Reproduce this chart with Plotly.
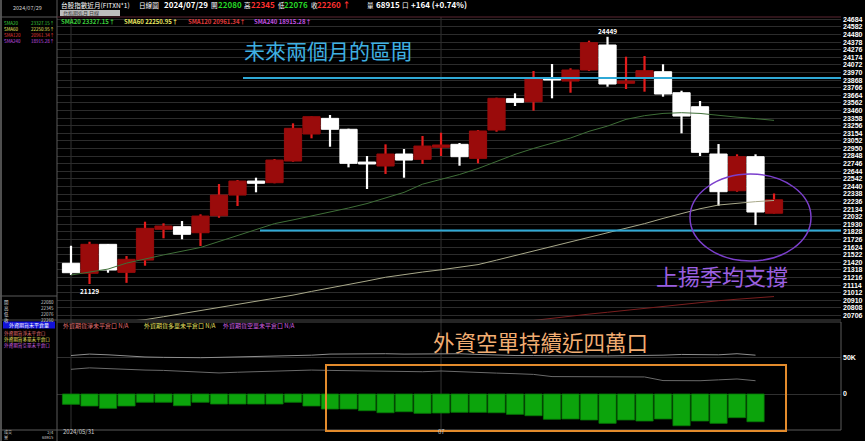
import plotly.graph_objects as go

W, H = 865, 441

# ---------------- data ----------------
DATES = ["2024/05/31", "2024/06/03", "2024/06/04", "2024/06/05", "2024/06/06", "2024/06/07",
         "2024/06/11", "2024/06/12", "2024/06/13", "2024/06/14", "2024/06/17", "2024/06/18",
         "2024/06/19", "2024/06/20", "2024/06/21", "2024/06/24", "2024/06/25", "2024/06/26",
         "2024/06/27", "2024/06/28", "2024/07/01", "2024/07/02", "2024/07/03", "2024/07/04",
         "2024/07/05", "2024/07/08", "2024/07/09", "2024/07/10", "2024/07/11", "2024/07/12",
         "2024/07/15", "2024/07/16", "2024/07/17", "2024/07/18", "2024/07/19", "2024/07/22",
         "2024/07/23", "2024/07/26", "2024/07/29"]

OPEN = [21407, 21273, 21662, 21286, 21451, 21864, 21899, 21818, 22046, 22324, 22512, 22490, 22781,
        23144, 23354, 23207, 22767, 22714, 22875, 22804, 22965, 23005, 22817, 23197, 23618, 23577,
        23900, 23855, 24003, 24339, 23825, 23892, 23980, 23698, 23510, 22875, 22382, 22839, 22080]
HIGH = [21643, 21697, 21667, 21505, 21966, 21944, 21975, 22065, 22472, 22526, 22557, 22808, 23287,
        23380, 23399, 23215, 22848, 23005, 22942, 23117, 23161, 23023, 23197, 23631, 23690, 23990,
        24084, 24026, 24397, 24449, 24182, 24191, 24080, 23725, 23587, 23009, 22871, 22871, 22345]
LOW = [21250, 21129, 21281, 21145, 21375, 21743, 21730, 21640, 22019, 22177, 22361, 22482, 22772,
       23086, 22973, 22696, 22405, 22607, 22557, 22741, 22848, 22718, 22750, 23175, 23520, 23457,
       23623, 23698, 23990, 23779, 23748, 23712, 23645, 23153, 22848, 22181, 22369, 21921, 22076]
CLOSE = [21281, 21662, 21317, 21461, 21877, 21908, 21797, 22042, 22324, 22512, 22482, 22794, 23220,
         23376, 23207, 22750, 22741, 22875, 22794, 22982, 22996, 22839, 23184, 23623, 23569, 23892,
         23869, 24003, 24370, 23815, 23855, 23994, 23681, 23385, 22898, 22369, 22839, 22096, 22260]
VOLUME_LAST = 68915

SMA20 = [21250, 21290, 21330, 21410, 21470, 21520, 21570, 21620, 21700, 21780, 21850, 21940, 21990,
         22040, 22100, 22150, 22210, 22280, 22360, 22470, 22530, 22600, 22680, 22780, 22870, 22950,
         23020, 23090, 23180, 23250, 23340, 23390, 23420, 23430, 23420, 23390, 23370, 23350, 23327]
SMA60 = [20560, 20580, 20600, 20625, 20650, 20690, 20730, 20770, 20810, 20850, 20890, 20930, 20980,
         21030, 21080, 21120, 21170, 21220, 21260, 21290, 21320, 21350, 21390, 21450, 21510, 21580,
         21640, 21700, 21760, 21815, 21880, 21940, 22010, 22080, 22140, 22190, 22215, 22235, 22251]
SMA120 = [None] * 25 + [20640, 20670, 20700, 20725, 20750, 20775, 20800, 20830, 20860, 20880,
                        20905, 20925, 20945, 20961]

# foreign futures open interest (contracts), 38 days available
NET_OI = [-14200, -16500, -19700, -16500, -11400, -11400, -16100, -11400, -13800, -13800, -13800,
          -13800, -11400, -16500, -20700, -20700, -23000, -25800, -24400, -26600, -26200, -25200,
          -25200, -25800, -28000, -29900, -34800, -34400, -35800, -40400, -35800, -37200, -34400,
          -43700, -37200, -40400, -32600, -38200]
LINE_A = [53000, 55000, 54000, 52000, 51000, 50500, 50000, 50000, 50500, 51000, 51500, 52000,
          52500, 53500, 55000, 55500, 56000, 55500, 55000, 55500, 56000, 55500, 54500, 53500,
          53000, 53000, 52500, 52500, 52500, 52500, 52500, 53000, 53500, 54500, 54000, 54000,
          55500, 53500]
LINE_B = [34000, 36000, 35000, 33500, 33000, 32500, 31500, 30500, 29000, 30000, 31000, 32000,
          32500, 33000, 32500, 32000, 31500, 31000, 30500, 30700, 31700, 30500, 29500, 28800,
          28000, 27000, 24000, 23800, 23800, 23800, 23800, 23500, 18500, 18300, 18300, 19500,
          20700, 18300]

PRICE_TICKS = [20706, 20808, 20910, 21012, 21114, 21216, 21318, 21420, 21522, 21624, 21726, 21828,
               21930, 22032, 22134, 22236, 22338, 22440, 22542, 22644, 22746, 22848, 22950, 23052,
               23154, 23256, 23358, 23460, 23562, 23664, 23766, 23868, 23970, 24072, 24174, 24276,
               24378, 24480, 24582, 24684]
OI_TICKS = [0, 50000]
OI_TICK_TEXT = ["0", "50K"]

UPPER_LEVEL = 23895
LOWER_LEVEL = 21848
SMA_LABELS = [("SMA20", "23327.15"), ("SMA60", "22250.95"), ("SMA120", "20961.34"), ("SMA240", "18915.28")]

# ---------------- helpers ----------------
def px(x):
    return x / W

def py(y):
    return 1 - y / H

X0, X1 = 57, 841
MAIN_TOP, MAIN_BOT = 17, 320
SUB_TOP, SUB_BOT = 322, 430

n = len(DATES)
up_idx = [i for i in range(n) if CLOSE[i] >= OPEN[i]]
dn_idx = [i for i in range(n) if CLOSE[i] < OPEN[i]]

RED_BODY = "#9a0b0b"
RED_WICK = "#e41c1c"
WHITE = "#ffffff"

fig = go.Figure()

def wick(idx, color):
    fig.add_trace(go.Bar(
        x=[DATES[i] for i in idx], base=[LOW[i] for i in idx],
        y=[HIGH[i] - LOW[i] for i in idx], width=0.12,
        marker=dict(color=color, line=dict(width=0)), xaxis="x", yaxis="y", hoverinfo="skip"))

def body(idx, color):
    fig.add_trace(go.Bar(
        x=[DATES[i] for i in idx], base=[min(OPEN[i], CLOSE[i]) for i in idx],
        y=[abs(CLOSE[i] - OPEN[i]) for i in idx], width=0.93,
        marker=dict(color=color, line=dict(color=color, width=1)), xaxis="x", yaxis="y"))

wick(up_idx, RED_WICK)
wick(dn_idx, WHITE)
body(up_idx, RED_BODY)
body(dn_idx, WHITE)

fig.add_trace(go.Scatter(x=DATES, y=SMA120, mode="lines", line=dict(color="#7a1e1e", width=1),
                         xaxis="x", yaxis="y"))
fig.add_trace(go.Scatter(x=DATES, y=SMA60, mode="lines", line=dict(color="#a9a98a", width=1),
                         xaxis="x", yaxis="y"))
fig.add_trace(go.Scatter(x=DATES, y=SMA20, mode="lines", line=dict(color="#3f6f38", width=1),
                         xaxis="x", yaxis="y"))

# lower panel
fig.add_trace(go.Bar(x=DATES[:len(NET_OI)], y=NET_OI, width=0.93,
                     marker=dict(color="#0ca40c", line=dict(color="#077a07", width=0.8)),
                     xaxis="x2", yaxis="y2"))
fig.add_trace(go.Scatter(x=DATES[:len(LINE_A)], y=LINE_A, mode="lines",
                         line=dict(color="#8e8e8e", width=1), xaxis="x2", yaxis="y2"))
fig.add_trace(go.Scatter(x=DATES[:len(LINE_B)], y=LINE_B, mode="lines",
                         line=dict(color="#6a6a6a", width=1), xaxis="x2", yaxis="y2"))

XR = [-0.757, 41.62]
common_x = dict(type="category", categoryorder="array", categoryarray=DATES, range=XR,
                showticklabels=False, showgrid=False, zeroline=False, showline=False, fixedrange=True)

fig.update_layout(
    width=W, height=H, margin=dict(l=0, r=0, t=0, b=0),
    paper_bgcolor="#000000", plot_bgcolor="#000000",
    barmode="overlay", showlegend=False,
    font=dict(family="Noto Sans CJK TC, DejaVu Sans, sans-serif", color="#ffffff"),
    xaxis=dict(domain=[px(X0), px(X1)], anchor="y", **common_x),
    xaxis2=dict(domain=[px(X0), px(X1)], anchor="y2", **common_x),
    yaxis=dict(domain=[py(MAIN_BOT), py(MAIN_TOP)], range=[20646, 24715], side="right",
               tickvals=PRICE_TICKS, ticktext=[str(t) for t in PRICE_TICKS],
               tickfont=dict(size=7, color="#ffffff", family="Liberation Sans", weight="bold"),
               gridcolor="#2c2c2c", gridwidth=1, zeroline=False, showline=False, ticks="",
               ticklabelstandoff=1, fixedrange=True),
    yaxis2=dict(domain=[py(SUB_BOT), py(SUB_TOP)], range=[-49600, 99200], side="right",
                tickvals=OI_TICKS, ticktext=OI_TICK_TEXT,
                tickfont=dict(size=7, color="#ffffff", family="Liberation Sans", weight="bold"),
                gridcolor="#303030", gridwidth=1, zeroline=False, showline=False, ticks="",
                ticklabelstandoff=1, fixedrange=True),
)

shapes = []
def line(x0, y0, x1, y1, color, width=1, dash="solid"):
    shapes.append(dict(type="line", xref="paper", yref="paper", x0=px(x0), y0=py(y0),
                       x1=px(x1), y1=py(y1), line=dict(color=color, width=width, dash=dash)))

# frames / separators
line(1, 0, 1, 441, "#6a6a6a", 1.5)
line(X0, 0, X0, 441, "#5a5a5a", 1)
line(0, 17, 57, 17, "#5a5a5a", 1)
line(X0, 17, X1, 17, "#5c2632", 1)
line(0, 296, 57, 296, "#5a5a5a", 1)
line(0, 320, X1, 320, "#4a4a4a", 1)
line(X0, SUB_TOP, X1, SUB_TOP, "#4a4a4a", 1)
line(0, SUB_BOT, X1, SUB_BOT, "#5a5a5a", 1)
line(X1, SUB_TOP, X1, SUB_BOT, "#5a5a5a", 1)
# vertical month separators (data coords)
for d in (DATES[0], DATES[20]):
    shapes.append(dict(type="line", xref="x", yref="paper", x0=d, x1=d, y0=py(SUB_BOT), y1=py(MAIN_TOP),
                       line=dict(color="#333333", width=1), layer="below"))
# support / resistance lines
shapes.append(dict(type="line", xref="paper", yref="y", x0=px(243), x1=px(X1), y0=UPPER_LEVEL,
                   y1=UPPER_LEVEL, line=dict(color="#2fa9d6", width=2)))
shapes.append(dict(type="line", xref="paper", yref="y", x0=px(260), x1=px(X1), y0=LOWER_LEVEL,
                   y1=LOWER_LEVEL, line=dict(color="#2fa9d6", width=2)))
# ellipse
shapes.append(dict(type="circle", xref="paper", yref="paper", x0=px(690), x1=px(811),
                   y0=py(261), y1=py(174), line=dict(color="#7b3fcc", width=1.5)))
# orange box
shapes.append(dict(type="rect", xref="paper", yref="paper", x0=px(326), x1=px(786),
                   y0=py(431), y1=py(365), line=dict(color="#e38b2c", width=2)))
# left panel blue header & gray header box
shapes.append(dict(type="rect", xref="paper", yref="paper", x0=px(3), x1=px(55),
                   y0=py(328.5), y1=py(321.5), fillcolor="#1212d8", line=dict(width=0)))
shapes.append(dict(type="rect", xref="paper", yref="paper", x0=px(60), x1=px(120),
                   y0=py(16), y1=py(10), fillcolor="#bdbdbd", line=dict(width=0)))
fig.update_layout(shapes=shapes)

ann = []
def text(x, y, s, color="#ffffff", size=7, anchor="left", weight="normal", family=None, pad=1):
    f = dict(size=size, color=color, weight=weight)
    if family:
        f["family"] = family
    ann.append(dict(xref="paper", yref="paper", x=px(x), y=py(y), text=s, showarrow=False,
                    xanchor=anchor, yanchor="middle", font=f, borderpad=pad))

def block(x, y, s, anchor, yanchor="top", size=4.5, color=None, align=None):
    f = dict(size=size)
    if color:
        f["color"] = color
    ann.append(dict(xref="paper", yref="paper", x=px(x), y=py(y), text=s, showarrow=False,
                    xanchor=anchor, yanchor=yanchor, align=align or anchor, font=f, borderpad=0))

# header
G, R = "#26d626", "#ff3030"
text(60, 5, "台股指數近月(FITXN*1)", size=6.6, pad=0)
text(138, 5, "日線圖", size=6.6, pad=0)
text(163, 5, "2024/07/29", size=8, weight="bold", pad=0)
text(210, 5, "開", size=6.6, pad=0)
text(217, 5, f"{OPEN[-1]}", G, 8, weight="bold", pad=0)
text(243, 5, "高", size=6.6, pad=0)
text(250, 5, f"{HIGH[-1]}", R, 8, weight="bold", pad=0)
text(277, 5, "低", size=6.6, pad=0)
text(283, 5, f"{LOW[-1]}", G, 8, weight="bold", pad=0)
text(310, 5, "收", size=6.6, pad=0)
text(316, 5, f"{CLOSE[-1]} ↑", R, 8, weight="bold", pad=0)
text(366, 5, "量", size=6.6, pad=0)
text(375, 5, f"{VOLUME_LAST}", size=8, weight="bold", pad=0)
text(401, 5, "口", size=6.6, pad=0)
chg = CLOSE[-1] - CLOSE[-2]
text(410, 5, f"+{chg} (+{chg / CLOSE[-2] * 100:.2f}%)", size=8, weight="bold", pad=0)
text(62, 13, "台指期近月 日線", "#333333", 5, pad=0)

# SMA row over chart
sma_colors = ["#3ccf3c", "#e8e860", "#e03a3a", "#c050e0"]
for (name, val), c, x in zip(SMA_LABELS, sma_colors, (60, 123, 187, 253)):
    text(x, 21, f"{name} {val}↑", c, 6, weight="bold", pad=0)

# left panel (multi-line blocks)
text(28, 8, "2024/07/29", "#cfcfcf", 5.5, "center", pad=0)
block(3, 19, "<br>".join(f"<span style='color:{c}'>{nm}</span>" for (nm, _), c in zip(SMA_LABELS, sma_colors)), "left")
block(55, 19, "<br>".join(f"<span style='color:{c}'>{v}↑</span>" for (_, v), c in zip(SMA_LABELS, sma_colors)), "right")
block(3, 297.5, "<br>".join(["開", "高", "低", "收"]), "left", color="#dddddd")
block(55, 297.5, "<br>".join(str(v) for v in (OPEN[-1], HIGH[-1], LOW[-1], CLOSE[-1])), "right", color="#cccccc")
text(29, 325, "外資期貨未平倉量", "#ffffff", 5, "center", pad=0)
sub_names = [("外資期貨淨未平倉口", "#e07070"), ("外資期貨多單未平倉口", "#e8e060"), ("外資期貨空單未平倉口", "#d060e0")]
block(3, 329, "<br>".join(f"<span style='color:{c}'>{nm}</span>" for nm, c in sub_names), "left", size=4.6)
for (nm, c), x in zip(sub_names, (62, 143, 222)):
    text(x, 325.5, nm + " N/A", c, 6, pad=0)
block(3, 440.5, "成交<br>量", "left", "bottom", size=4.1, color="#cccccc")
block(55, 440.5, f"2/4<br>{VOLUME_LAST}", "right", "bottom", size=4.1, color="#cccccc")

# big annotations
text(243, 50, "未來兩個月的區間", "#3fb0e2", 21, pad=0)
text(655, 275, "上揚季均支撐", "#9a5fe0", 22, pad=0)
text(432, 341, "外資空單持續近四萬口", "#f2ad72", 21.5, pad=0)

fig.update_layout(annotations=ann)

# high / low markers and date labels via data coords
imax = HIGH.index(max(HIGH))
imin = LOW.index(min(LOW))
fig.add_annotation(x=DATES[imax], y=HIGH[imax], xref="x", yref="y", text=str(HIGH[imax]),
                   showarrow=False, yanchor="bottom", yshift=0, borderpad=0,
                   font=dict(size=6.5, color="#ffffff", weight="bold"))
fig.add_annotation(x=DATES[imin], y=LOW[imin], xref="x", yref="y", text=str(LOW[imin]),
                   showarrow=False, yanchor="top", yshift=-1, borderpad=0,
                   font=dict(size=6.5, color="#ffffff", weight="bold"))
fig.add_annotation(x=DATES[0], y=py(437), xref="x", yref="paper", text=DATES[0], xanchor="left",
                   xshift=-9, showarrow=False, borderpad=0, font=dict(size=6, color="#cccccc"))
fig.add_annotation(x=DATES[20], y=py(437), xref="x", yref="paper", text="07", xanchor="center",
                   showarrow=False, borderpad=0, font=dict(size=6, color="#cccccc"))

fig.write_html("out.html", config={"displayModeBar": False},
               post_script="document.body.style.margin='0';document.body.style.overflow='hidden';")
